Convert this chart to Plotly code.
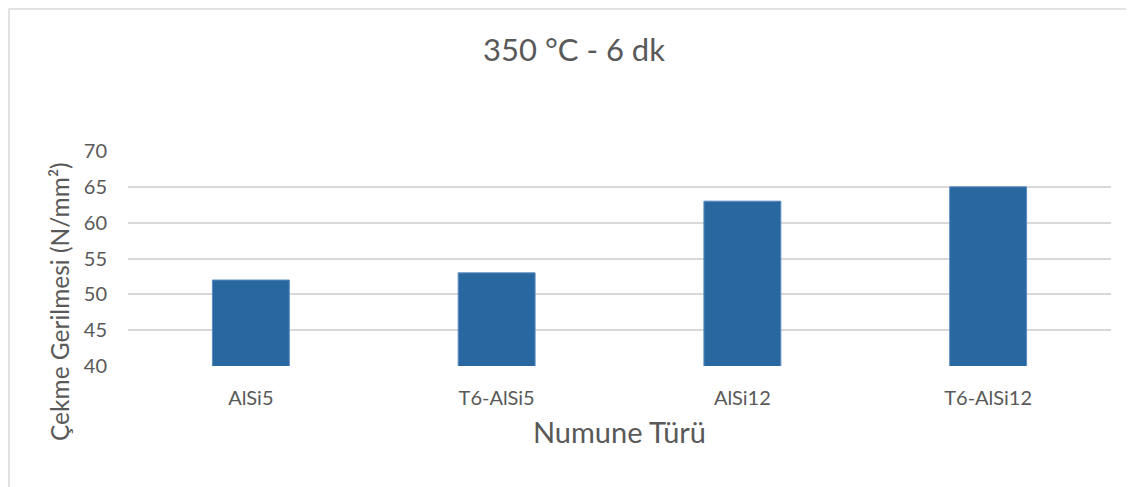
import plotly.graph_objects as go

categories = ["AlSi5", "T6-AlSi5", "AlSi12", "T6-AlSi12"]
values = [52, 53, 63, 65]
y_ticks = [40, 45, 50, 55, 60, 65, 70]

# page has an 8px body margin, so the figure sits at (8, 8)
W, H = 1126, 479
L, R, T, B = 120, 23, 143, 121
font_family = "Lato, Open Sans, sans-serif"
txt = "#595959"

fig = go.Figure()
fig.add_trace(go.Bar(
    x=categories, y=values,
    marker=dict(color="#2967A1", line=dict(color="#5B8CC0", width=1)),
))

pw, ph = W - L - R, H - T - B

fig.update_layout(
    width=W, height=H,
    paper_bgcolor="white", plot_bgcolor="white",
    margin=dict(l=L, r=R, t=T, b=B),
    bargap=0.687,
    showlegend=False,
    font=dict(family=font_family, color=txt),
    title=dict(text="350 °C - 6 dk", x=(574 - 8) / W, xanchor="center", y=1 - 42 / H, yanchor="middle",
               font=dict(size=31, color=txt, family=font_family)),
    xaxis=dict(
        title=dict(text="Numune Türü", font=dict(size=29, color=txt), standoff=14),
        tickfont=dict(size=20, color=txt),
        ticklabelstandoff=18,
        showgrid=False, showline=False, ticks="",
    ),
    yaxis=dict(
        range=[40, 70], tickvals=y_ticks,
        tickfont=dict(size=20, color=txt),
        ticklabelstandoff=20,
        showgrid=True, gridcolor="#D9D9D9", gridwidth=1.5,
        zeroline=False, showline=False, ticks="",
    ),
    annotations=[dict(
        text="Çekme Gerilmesi (N/mm²)", textangle=-90, showarrow=False,
        xref="paper", yref="paper",
        x=(59 - 8 - L) / pw, y=(T + ph - (302 - 8)) / ph,
        xanchor="center", yanchor="middle",
        font=dict(size=24.5, color=txt, family=font_family),
    )],
    shapes=[dict(type="rect", xref="paper", yref="paper",
                 x0=(1 - L) / pw, x1=1.1,
                 y0=-0.8, y1=1 + (T - 1) / ph,
                 line=dict(color="#D9D9D9", width=1.5), fillcolor="rgba(0,0,0,0)", layer="below")],
)

fig.write_html("out.html")
